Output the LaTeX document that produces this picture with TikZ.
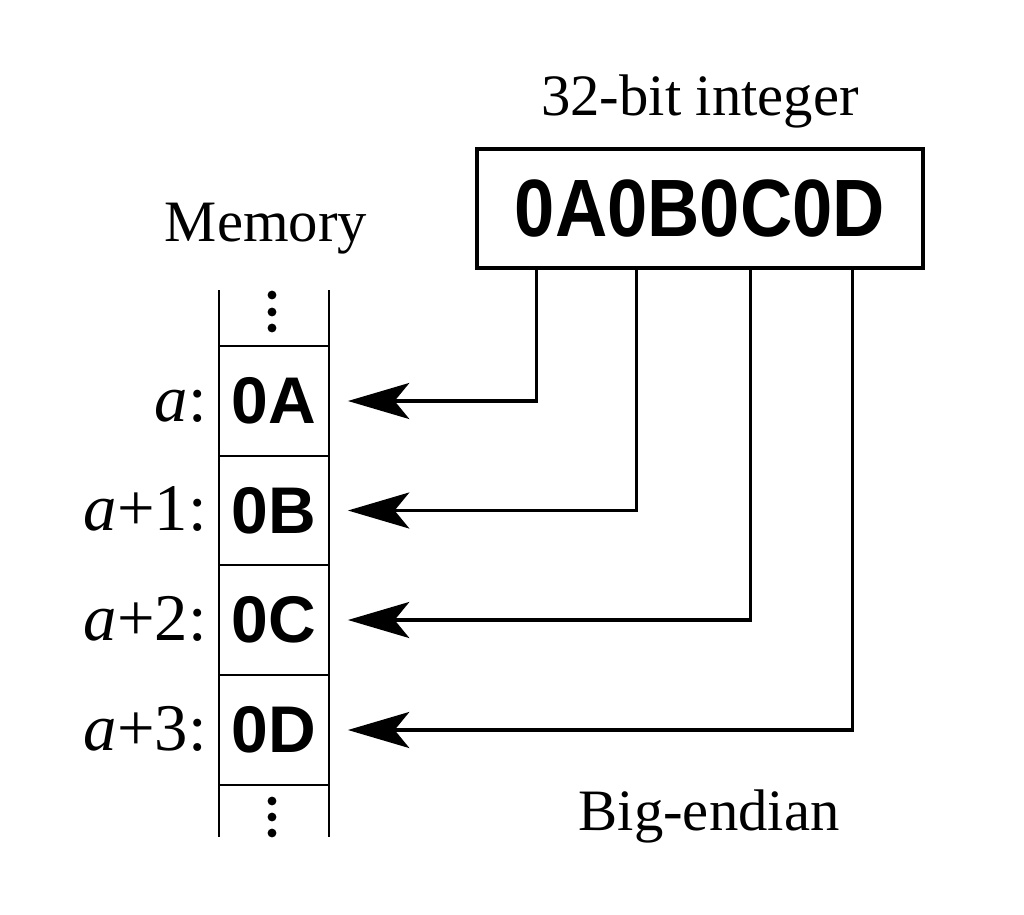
\documentclass[tikz,border=0pt]{standalone}
\usepackage{fontspec}
\setmainfont{Liberation Serif}
\newfontfamily\hexfont{Liberation Sans}
\usetikzlibrary{arrows.meta,calc}
\begin{document}
\begin{tikzpicture}[x=0.75pt,y=-0.75pt,
  cell/.style={draw, line width=1.4pt, minimum width=82.5pt, minimum height=82.5pt, inner sep=0pt,
    font=\hexfont\bfseries\fontsize{49.5}{56}\selectfont},
  conn/.style={line width=2.4pt, -{Stealth[length=46pt,width=27pt,inset=11pt]}, shorten >=13.5pt},
  lbl/.style={inner sep=0pt, anchor=base, font=\fontsize{44}{52}\selectfont},
  addr/.style={inner sep=0pt, anchor=base east, font=\fontsize{50}{58}\selectfont},
  memdot/.style={fill=black, circle, inner sep=0pt, minimum size=6.6pt}]
\useasboundingbox (0,0) rectangle (1024,914);

% memory column
\draw[line width=2pt] (219,290) -- (219,837);
\draw[line width=2pt] (329,290) -- (329,837);
\node[cell] (cA) at (274,401) {0A};
\node[cell] (cB) at (274,510.5) {0B};
\node[cell] (cC) at (274,620) {0C};
\node[cell] (cD) at (274,730) {0D};
\node[memdot] (t1) at (272,295) {};
\node[memdot] (t2) at (272,312) {};
\node[memdot] (t3) at (272,328) {};
\node[memdot] (b1) at (272,801) {};
\node[memdot] (b2) at (272,817) {};
\node[memdot] (b3) at (272,833) {};

% address labels
\node[addr] (la) at (207,421) {\textit{a}:};
\node[addr] (lb) at (207,530) {\textit{a}+1:};
\node[addr] (lc) at (207,640) {\textit{a}+2:};
\node[addr] (ld) at (207,750) {\textit{a}+3:};

% texts
\node[lbl] (mem) at (266,241) {Memory};
\node[lbl] (title) at (700,115) {32-bit integer};
\node[lbl] (be) at (709,830) {Big-endian};

% integer box
\node[draw, line width=2.4pt, minimum width=334.5pt, minimum height=89.25pt, inner sep=0pt,
  font=\hexfont\bfseries\fontsize{61}{70}\selectfont] (box) at (700,208.5)
  {\scalebox{0.89}[1]{0A0B0C0D}};

% connectors
\draw[conn] ($(box.south west)+(61,0)$) |- (cA);
\draw[conn] ($(box.south west)+(161,0)$) |- (cB);
\draw[conn] ($(box.south west)+(275,0)$) |- (cC);
\draw[conn] ($(box.south west)+(377,0)$) |- (cD);
\end{tikzpicture}
\end{document}
